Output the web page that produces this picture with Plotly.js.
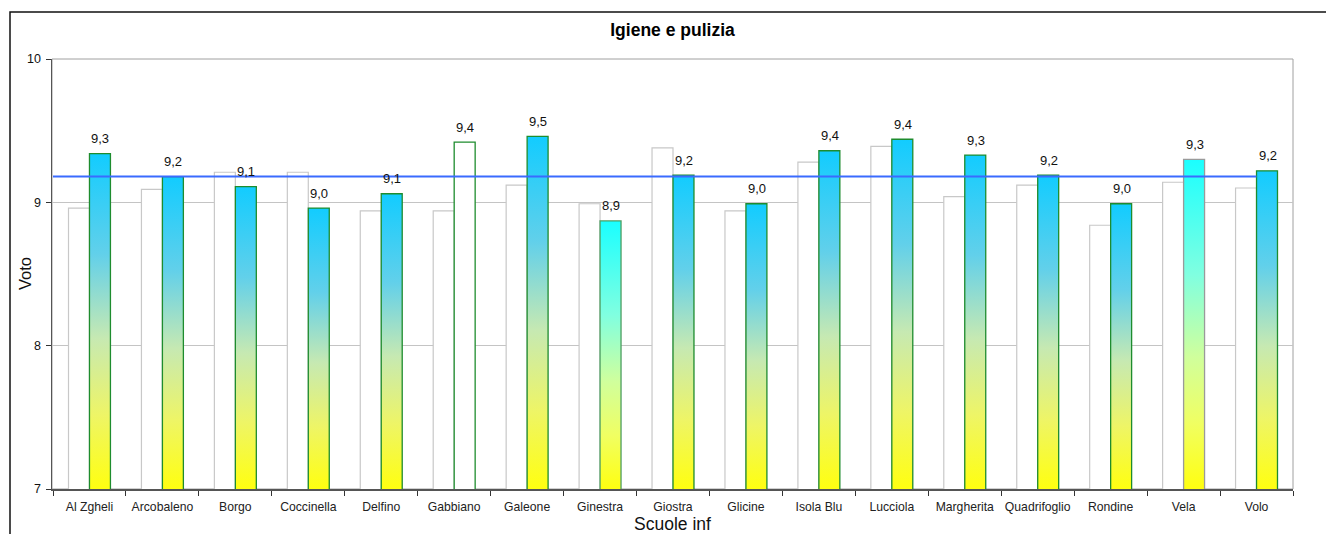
<!DOCTYPE html>
<html>
<head>
<meta charset="utf-8">
<script src="https://cdn.plot.ly/plotly-3.0.1.min.js"></script>
<style>
  html, body { margin: 0; padding: 0; background: #fff; }
  #chart { width: 1326px; height: 534px; }
</style>
</head>
<body>
<div id="chart"></div>
<script>
// ---- data ----
const schools = ["Al Zgheli", "Arcobaleno", "Borgo", "Coccinella", "Delfino", "Gabbiano", "Galeone", "Ginestra", "Giostra", "Glicine", "Isola Blu", "Lucciola", "Margherita", "Quadrifoglio", "Rondine", "Vela", "Volo"];
const prevYear = [8.96, 9.09, 9.21, 9.21, 8.94, 8.94, 9.12, 8.99, 9.38, 8.94, 9.28, 9.39, 9.04, 9.12, 8.84, 9.14, 9.10];
const currYear = [9.34, 9.18, 9.11, 8.96, 9.06, 9.42, 9.46, 8.87, 9.19, 8.99, 9.36, 9.44, 9.33, 9.19, 8.99, 9.30, 9.22];
const average = [9.18];
const yTickValues = [7, 8, 9, 10];

// ---- styling helpers (not data) ----
const fillStyle = { "Ginestra": "aqua", "Vela": "aqua", "Gabbiano": "none" };
const borderStyle = { "Ginestra": "#4E9E62", "Vela": "#9A9A9A", "Gabbiano": "#1E8C2E" };
const fmt = v => v.toFixed(1).replace('.', ',');

const FONT = "Liberation Sans, Arial, sans-serif";

const traces = [
  {
    type: 'bar', name: 'precedente', x: schools, y: prevYear,
    marker: { color: '#FFFFFF', line: { color: '#C8C8C8', width: 1.2 } },
    hoverinfo: 'skip'
  },
  {
    type: 'bar', name: 'attuale', x: schools, y: currYear,
    marker: {
      color: schools.map(s => fillStyle[s] === 'none' ? '#FFFFFF' : (fillStyle[s] === 'aqua' ? '#80FFE0' : '#6AD0E8')),
      line: { color: schools.map(s => borderStyle[s] || '#1E8C2E'), width: 1.3 }
    },
    hoverinfo: 'skip'
  }
];

const annotations = schools.map((s, i) => ({
  x: s, y: currYear[i], xref: 'x', yref: 'y',
  text: fmt(currYear[i]), showarrow: false,
  xshift: 11, yshift: 15, yanchor: 'middle', xanchor: 'center',
  font: { family: FONT, size: 13, color: '#111' }
}));
annotations.push({
  x: (25 - 52) / 1241, y: 0.5, xref: 'paper', yref: 'paper',
  text: 'Voto', textangle: -90, showarrow: false, xanchor: 'center', yanchor: 'middle',
  font: { family: FONT, size: 16.5, color: '#111' }
});

const layout = {
  width: 1326, height: 534,
  margin: { l: 52, r: 33, t: 59, b: 45 },
  paper_bgcolor: '#FFFFFF', plot_bgcolor: '#FFFFFF',
  showlegend: false,
  barmode: 'group', bargap: 0.425, bargroupgap: 0,
  title: {
    text: '<b>Igiene e pulizia</b>',
    font: { family: FONT, size: 17.5, color: '#000' },
    x: 0.5, xanchor: 'center', y: 1 - 30 / 534, yanchor: 'middle', xref: 'paper'
  },
  font: { family: FONT, color: '#111' },
  xaxis: {
    type: 'category',
    showline: true, linecolor: '#555', linewidth: 1.5,
    ticks: 'outside', tickson: 'boundaries', ticklen: 5, tickcolor: '#333', tickwidth: 1,
    ticklabelstandoff: 6,
    tickfont: { family: FONT, size: 12.2, color: '#222' },
    tickangle: 0, showgrid: false,
    title: { text: 'Scuole inf', font: { family: FONT, size: 17.5, color: '#111' }, standoff: 6 },
    automargin: false
  },
  yaxis: {
    range: [7, 10], tickvals: yTickValues, ticktext: yTickValues.map(String),
    showline: true, linecolor: '#555', linewidth: 1.5,
    ticks: 'outside', ticklen: 5, tickcolor: '#333',
    ticklabelstandoff: 2,
    tickfont: { family: FONT, size: 12.5, color: '#111' },
    showgrid: true, gridcolor: '#C4C4C4', gridwidth: 1, zeroline: false,
    automargin: false
  },
  shapes: [
    // plot area frame
    { type: 'rect', xref: 'paper', yref: 'paper', x0: 0, x1: 1, y0: 0, y1: 1,
      line: { color: '#A0A0A0', width: 1 }, layer: 'below' },
    // outer chart frame
    { type: 'rect', xref: 'paper', yref: 'paper', x0: -42 / 1241, x1: 1.05, y0: -0.15, y1: (489 - 12) / 430,
      line: { color: '#111', width: 1.5 }, layer: 'below' },
    // average line
    { type: 'line', xref: 'x', yref: 'y', x0: -0.5, x1: schools.length - 1, y0: average[0], y1: average[0],
      line: { color: '#3A6BFF', width: 2 }, layer: 'above' }
  ],
  annotations: annotations
};

const gd = document.getElementById('chart');
Plotly.newPlot(gd, traces, layout, { staticPlot: true, displayModeBar: false }).then(() => {
  const NS = 'http://www.w3.org/2000/svg';
  const svg = gd.querySelector('svg.main-svg');
  let defs = svg.querySelector('defs');
  if (!defs) { defs = document.createElementNS(NS, 'defs'); svg.insertBefore(defs, svg.firstChild); }
  const stopsBlue = [[0, '#12CCFF'], [0.3, '#62D0EA'], [0.55, '#C6E9B2'], [0.78, '#EEF566'], [1, '#FFFF10']];
  const stopsAqua = [[0, '#1AFFFF'], [0.35, '#80FFE0'], [0.6, '#D0FF9C'], [0.8, '#F0FF62'], [1, '#FFFF10']];
  const plotH = gd._fullLayout._size.h;
  function addGrad(id, stops, yTop, yBot) {
    const g = document.createElementNS(NS, 'linearGradient');
    g.setAttribute('id', id);
    g.setAttribute('gradientUnits', 'userSpaceOnUse');
    g.setAttribute('x1', '0'); g.setAttribute('y1', String(yTop));
    g.setAttribute('x2', '0'); g.setAttribute('y2', String(yBot));
    stops.forEach(([o, c]) => {
      const s = document.createElementNS(NS, 'stop');
      s.setAttribute('offset', o); s.setAttribute('stop-color', c);
      g.appendChild(s);
    });
    defs.appendChild(g);
  }
  const traceGroups = gd.querySelectorAll('.barlayer .trace');
  const paths = traceGroups[1].querySelectorAll('.point path');
  paths.forEach((p, i) => {
    const st = fillStyle[schools[i]];
    if (st === 'none') return;
    const bb = p.getBBox();
    const id = 'barGrad' + i;
    addGrad(id, st === 'aqua' ? stopsAqua : stopsBlue, bb.y, plotH);
    p.style.fill = 'url(#' + id + ')';
  });
});
</script>
</body>
</html>
